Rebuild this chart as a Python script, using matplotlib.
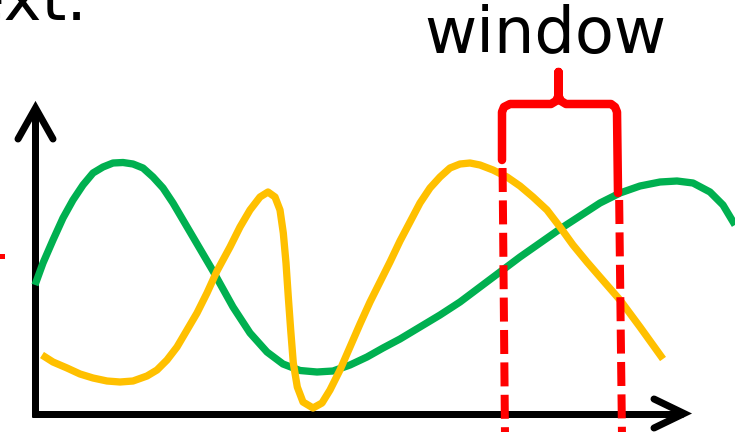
import matplotlib
matplotlib.use("Agg")
import matplotlib.pyplot as plt

# ---- data (pixel units, y grows downward) ----
green_x = [35, 43, 53, 63, 73, 83, 93, 103, 113, 123, 133, 143, 153, 163, 173,
           183, 193, 203, 213, 223, 233, 250, 267, 283, 300, 317, 333, 350, 367,
           383, 400, 420, 440, 460, 480, 500, 520, 540, 560, 580, 600, 620, 640,
           660, 677, 693, 710, 723, 735]
green_y = [285, 263, 240, 218, 200, 185, 173, 167, 163, 162.5, 164, 168, 177, 188,
           203, 220, 237, 254, 271, 289, 307, 333, 352, 364, 370.5, 372, 371, 365,
           357, 348, 339, 327, 315, 302, 287, 272, 257, 243, 229, 216, 203, 193,
           186, 182, 181, 183, 192, 205, 225]

yellow_x = [42, 53, 67, 80, 93, 107, 120, 133, 147, 157, 167, 177, 187, 197, 207,
            217, 230, 240, 250, 260, 268, 275, 280, 283.3, 286, 288.3, 290.7,
            293.3, 297.3, 303, 313, 322, 330, 340, 350, 360, 370, 380, 390, 400,
            410, 420, 430, 440, 450, 460, 470, 480, 493, 507, 520, 533, 547, 560,
            573, 587, 600, 620, 640, 663]
yellow_y = [355, 362, 368, 374, 378, 381, 382, 381, 376, 370, 360, 347, 330, 313,
            293, 271, 247, 227, 210, 197, 192, 197, 210, 233, 263, 297, 330, 363,
            387, 402, 408, 403, 390, 370, 347, 324, 302, 282, 262, 241, 222, 203,
            188, 177, 168, 164, 163, 165, 170, 177, 186, 197, 210, 227, 245, 262,
            277, 300, 327, 359]

window_top_x = [502, 618]      # dashed window borders at top
window_bot_x = [505, 622]      # and at bottom
window_dash_start = [168, 200]
label_window = "window"
label_context = "context."

GREEN = "#00B050"
GOLD = "#FFC000"
RED = "#FF0000"

fig = plt.figure(figsize=(7.35, 4.32), dpi=100)
ax = fig.add_axes([0, 0, 1, 1])
ax.set_xlim(0, 735)
ax.set_ylim(432, 0)
ax.axis("off")

PX = 0.72  # points per pixel at 100 dpi

# curves
ax.plot(green_x, green_y, color=GREEN, lw=7.3 * PX, solid_capstyle="butt",
        solid_joinstyle="round", zorder=3)
ax.plot(yellow_x, yellow_y, color=GOLD, lw=7.3 * PX, solid_capstyle="butt",
        solid_joinstyle="round", zorder=3)

# axes with open arrow heads
ax.plot([35.5, 35.5], [417, 110], color="black", lw=7 * PX, solid_capstyle="butt", zorder=2)
ax.plot([18, 35.5, 53], [139, 108, 139], color="black", lw=7 * PX,
        solid_capstyle="round", solid_joinstyle="miter", zorder=2)
ax.plot([32, 683], [413.5, 413.5], color="black", lw=7 * PX, solid_capstyle="butt", zorder=2)
ax.plot([654, 684, 654], [399, 413.5, 428], color="black", lw=7 * PX,
        solid_capstyle="round", solid_joinstyle="miter", zorder=2)

# dashed window borders
for xt, xb, ys in zip(window_top_x, window_bot_x, window_dash_start):
    xs = xt + (xb - xt) * (ys - 105) / (432 - 105)
    ax.plot([xs, xb], [ys, 436], color=RED, lw=8 * PX,
            linestyle=(0, (3.0, 1.05)), dash_capstyle="butt", zorder=4)

# curly brace on top of the window
bx = [502, 502, 504, 510, 551, 556, 558.5, 558.5, 558.5, 561, 566, 611, 615, 617, 618]
by = [160, 112, 107, 104, 104, 101, 96, 72, 96, 101, 104, 104, 107, 112, 193]
ax.plot(bx, by, color=RED, lw=8.5 * PX, solid_capstyle="round",
        solid_joinstyle="round", zorder=4)

# small red arrow tip at the left edge
ax.plot([-10, 2], [255.5, 255.5], color=RED, lw=5 * PX, zorder=4)

# texts
ax.text(545, 53, label_window, ha="center", va="baseline", fontsize=46,
        family="DejaVu Sans", fontweight="normal", color="black")
ax.text(87, 20, label_context, ha="right", va="baseline", fontsize=46,
        family="DejaVu Sans", fontweight="normal", color="black")

fig.savefig("out.png", dpi=100)
